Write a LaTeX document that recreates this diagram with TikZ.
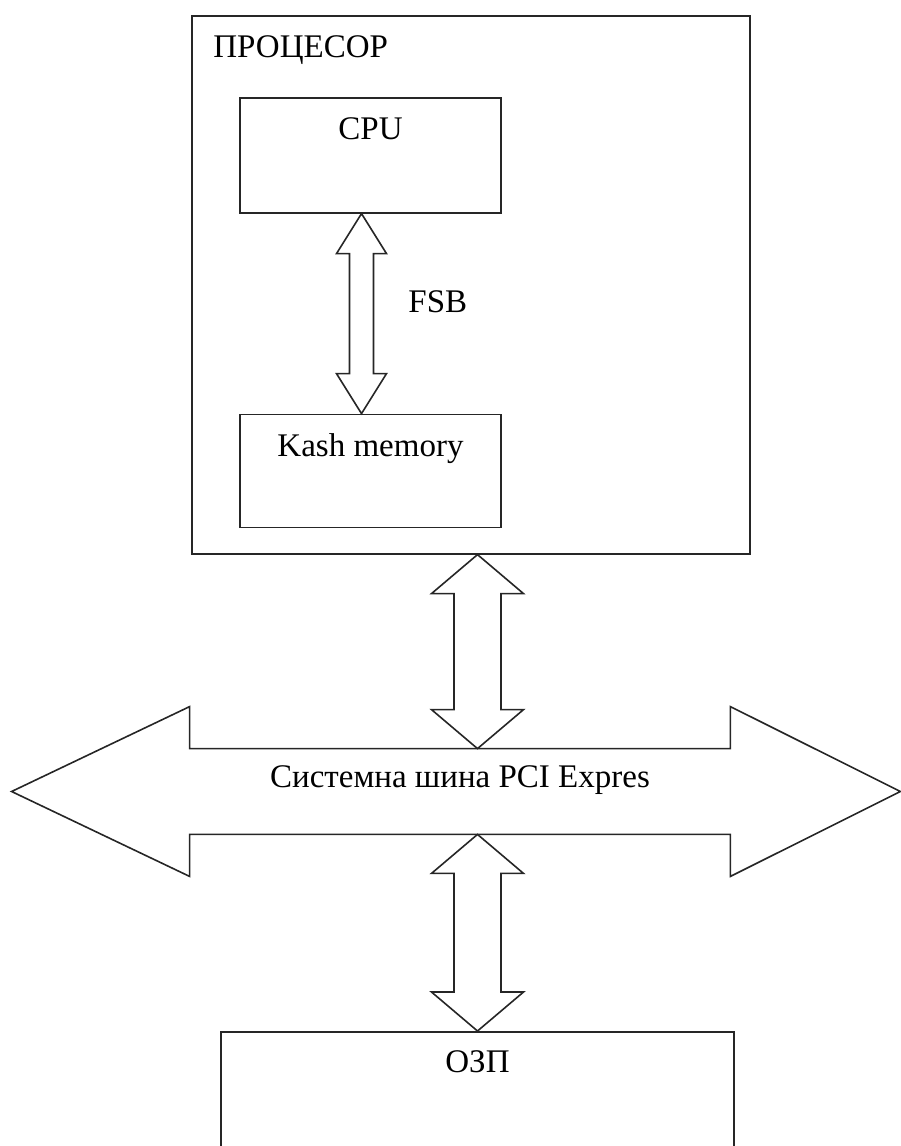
\documentclass[tikz,border=0pt]{standalone}
\usepackage{fontspec}
\setmainfont{Liberation Serif}
\usetikzlibrary{positioning, calc}
\tikzstyle{frame} = [rectangle, draw=black!85, line width=0.8pt, inner sep=0pt]
\tikzstyle{unit} = [frame, minimum width=130.5pt, text height=21pt, text depth=36.5pt]
\tikzstyle{tag} = [inner sep=0pt]
\tikzstyle{pipe} = [draw=black!85, line width=0.8pt, line join=miter]

% hollow two-headed arrow between two points: top, bottom, half shaft, half head, head length
\newcommand{\fatarrow}[5]{%
  \draw[pipe] let \p1=#1, \p2=#2 in
    (\p1) -- (\x1-#4,\y1-#5) -- (\x1-#3,\y1-#5) -- (\x1-#3,\y2+#5)
    -- (\x1-#4,\y2+#5) -- (\x1,\y2) -- (\x1+#4,\y2+#5) -- (\x1+#3,\y2+#5)
    -- (\x1+#3,\y1-#5) -- (\x1+#4,\y1-#5) -- cycle;}

\begin{document}
\begin{tikzpicture}[x=0.5pt, y=-0.5pt]\fontsize{16.5}{20}\selectfont
  \useasboundingbox (0,0) rectangle (900,1146);

  % processor with its two units
  \node (proc) [frame, minimum width=279pt, minimum height=269pt, anchor=north west] at (191,15) {};
  \node (proctitle) [tag, anchor=base west] at ([xshift=11pt, yshift=-21pt]proc.north west) {ПРОЦЕСОР};
  \node (cpu) [unit, anchor=north] at (370.5,97) {CPU};
  \node (kash) [unit, text depth=35.5pt, below=100pt of cpu] {Kash memory};

  \fatarrow{([xshift=-4.5pt]cpu.south)}{([xshift=-4.5pt]kash.north)}{6pt}{12.5pt}{20pt}
  \node (fsb) [tag, anchor=base west] at (408,312) {FSB};

  % system bus
  \node (bus) [tag, minimum width=270pt, text height=19pt, text depth=23.5pt] at (460,791.5) {Системна шина PCI Expres};
  \draw[pipe] (bus.north west) -- ++(0,21pt) -- ([xshift=-89pt]bus.west)
    -- ([yshift=-21pt]bus.south west) -- (bus.south west) -- (bus.south east)
    -- ([yshift=-21pt]bus.south east) -- ([xshift=85pt]bus.east)
    -- ([yshift=21pt]bus.north east) -- (bus.north east) -- cycle;

  % main memory
  \node (ram) [frame, minimum width=256.5pt, text height=20.5pt, text depth=80pt, anchor=north] at (477.5,1031) {ОЗП};

  \fatarrow{(proc.south -| ram.north)}{(bus.north -| ram.north)}{11.75pt}{23pt}{19.5pt}
  \fatarrow{(bus.south -| ram.north)}{(ram.north)}{11.75pt}{23pt}{19.5pt}
\end{tikzpicture}
\end{document}
